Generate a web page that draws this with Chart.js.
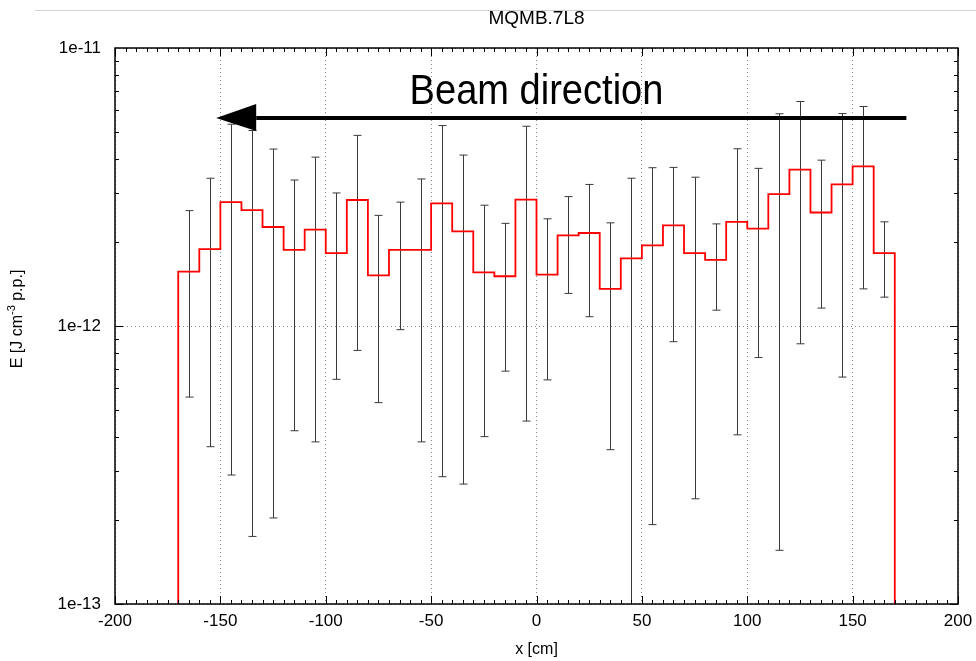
<!DOCTYPE html>
<html>
<head>
<meta charset="utf-8">
<script src="https://cdn.jsdelivr.net/npm/chart.js@4.4.1/dist/chart.umd.min.js"></script>
<style>
  html, body { margin: 0; padding: 0; background: #ffffff; }
  #wrap { width: 976px; height: 661px; }
</style>
</head>
<body>
<div id="wrap"><canvas id="edepChart"></canvas></div>
<script>
  // bin edges in cm, 10 cm bins
  const binEdges = [-170, -160, -150, -140, -130, -120, -110, -100, -90, -80, -70, -60, -50, -40, -30, -20, -10,
    0, 10, 20, 30, 40, 50, 60, 70, 80, 90, 100, 110, 120, 130, 140, 150, 160, 170];
  // energy density per bin [J cm^-3 p.p.]
  const energy = [1.57e-12, 1.89e-12, 2.79e-12, 2.61e-12, 2.27e-12, 1.88e-12, 2.22e-12, 1.83e-12, 2.84e-12, 1.52e-12,
    1.88e-12, 1.88e-12, 2.76e-12, 2.19e-12, 1.56e-12, 1.51e-12, 2.85e-12, 1.53e-12, 2.12e-12, 2.16e-12,
    1.36e-12, 1.75e-12, 1.95e-12, 2.30e-12, 1.83e-12, 1.73e-12, 2.37e-12, 2.24e-12, 2.98e-12, 3.65e-12,
    2.56e-12, 3.23e-12, 3.75e-12, 1.83e-12];
  // error bar ends (0 = lower end below the axis)
  const errHigh = [2.60e-12, 3.40e-12, 5.32e-12, 5.05e-12, 4.33e-12, 3.35e-12, 4.05e-12, 3.01e-12, 4.85e-12, 2.50e-12,
    2.79e-12, 3.38e-12, 5.26e-12, 4.12e-12, 2.72e-12, 2.34e-12, 5.23e-12, 2.43e-12, 2.92e-12, 3.23e-12,
    2.35e-12, 3.40e-12, 3.71e-12, 3.72e-12, 3.43e-12, 2.33e-12, 4.34e-12, 3.69e-12, 5.80e-12, 6.42e-12,
    3.95e-12, 5.81e-12, 6.16e-12, 2.37e-12];
  const errLow = [5.55e-13, 3.68e-13, 2.91e-13, 1.75e-13, 2.04e-13, 4.20e-13, 3.83e-13, 6.43e-13, 8.17e-13, 5.30e-13,
    9.70e-13, 3.83e-13, 2.87e-13, 2.70e-13, 4.00e-13, 6.88e-13, 4.55e-13, 6.40e-13, 1.31e-12, 1.08e-12,
    3.59e-13, 0, 1.93e-13, 8.78e-13, 2.39e-13, 1.14e-12, 4.06e-13, 7.70e-13, 1.56e-13, 8.63e-13,
    1.16e-12, 6.55e-13, 1.36e-12, 1.27e-12];
  const xTicks = [-200, -150, -100, -50, 0, 50, 100, 150, 200];
  const yTicks = [1e-13, 1e-12, 1e-11];
  // beam direction arrow (x in cm, y in J cm^-3)
  const arrowTip = -152;
  const arrowTail = 175.5;
  const arrowHeadBase = -133;
  const arrowLevel = 5.6e-12;

  const FONT = "'Liberation Sans', Arial, sans-serif";

  // histogram outline from the bins
  const stepPoints = [{ x: binEdges[0], y: yTicks[0] / 10 }];
  energy.forEach((v, i) => stepPoints.push({ x: binEdges[i], y: v }));
  stepPoints.push({ x: binEdges[binEdges.length - 1], y: energy[energy.length - 1] });
  stepPoints.push({ x: binEdges[binEdges.length - 1], y: yTicks[0] / 10 });

  const binCenters = energy.map((v, i) => (binEdges[i] + binEdges[i + 1]) / 2);

  const errorBars = {
    id: 'errorBars',
    beforeDatasetsDraw(chart) {
      const { ctx, chartArea, scales: { x, y } } = chart;
      ctx.save();
      ctx.beginPath();
      ctx.rect(chartArea.left, chartArea.top, chartArea.right - chartArea.left, chartArea.bottom - chartArea.top);
      ctx.clip();
      ctx.strokeStyle = '#3a3a3a';
      ctx.lineWidth = 1;
      binCenters.forEach((c, i) => {
        const px = Math.round(x.getPixelForValue(c)) + 0.5;
        const top = y.getPixelForValue(errHigh[i]);
        const bot = errLow[i] > 0 ? y.getPixelForValue(errLow[i]) : chartArea.bottom;
        ctx.beginPath();
        ctx.moveTo(px, top);
        ctx.lineTo(px, bot);
        ctx.moveTo(px - 4, top);
        ctx.lineTo(px + 4, top);
        if (errLow[i] > 0) {
          ctx.moveTo(px - 4, bot);
          ctx.lineTo(px + 4, bot);
        }
        ctx.stroke();
      });
      ctx.restore();
    }
  };

  const pageLine = {
    id: 'pageLine',
    beforeDraw(chart) {
      const { ctx, chartArea } = chart;
      ctx.save();
      ctx.strokeStyle = '#d0d0d0';
      ctx.lineWidth = 1;
      ctx.beginPath();
      ctx.moveTo(35, 10.5);
      ctx.lineTo(976, 10.5);
      ctx.stroke();
      // plot title, centred over the plot area
      ctx.fillStyle = '#000';
      ctx.font = '19px ' + FONT;
      ctx.textAlign = 'center';
      ctx.textBaseline = 'middle';
      ctx.fillText('MQMB.7L8', (chartArea.left + chartArea.right) / 2, 19);
      ctx.restore();
    }
  };

  const frameAndLabels = {
    id: 'frameAndLabels',
    afterDatasetsDraw(chart) {
      const { ctx, chartArea, scales: { x, y } } = chart;
      const { left, right, top, bottom } = chartArea;
      ctx.save();

      // arrow
      const ay = y.getPixelForValue(arrowLevel);
      const xt = x.getPixelForValue(arrowTip);
      const xb = x.getPixelForValue(arrowHeadBase);
      ctx.strokeStyle = '#000';
      ctx.fillStyle = '#000';
      ctx.lineWidth = 4;
      ctx.beginPath();
      ctx.moveTo(xb, ay);
      ctx.lineTo(x.getPixelForValue(arrowTail), ay);
      ctx.stroke();
      ctx.beginPath();
      ctx.moveTo(xt, ay);
      ctx.lineTo(xb, ay - 14);
      ctx.lineTo(xb, ay + 13);
      ctx.closePath();
      ctx.fill();

      // label above arrow
      ctx.save();
      ctx.translate(x.getPixelForValue(0), ay - 14);
      ctx.scale(0.885, 1);
      ctx.font = '43px ' + FONT;
      ctx.textAlign = 'center';
      ctx.textBaseline = 'alphabetic';
      ctx.fillText('Beam direction', 0, 0);
      ctx.restore();

      // frame
      ctx.strokeStyle = '#000';
      ctx.lineWidth = 1.5;
      ctx.strokeRect(left, top, right - left, bottom - top);

      // inward ticks
      ctx.lineWidth = 1;
      ctx.beginPath();
      for (let v = -200; v <= 200; v += 5) {
        const px = Math.round(x.getPixelForValue(v)) + 0.5;
        const len = v % 50 === 0 ? 8 : 4;
        ctx.moveTo(px, bottom);
        ctx.lineTo(px, bottom - len);
        ctx.moveTo(px, top);
        ctx.lineTo(px, top + len);
      }
      for (let d = -13; d < -11; d++) {
        for (let m = 1; m <= 9; m++) {
          const py = Math.round(y.getPixelForValue(m * Math.pow(10, d))) + 0.5;
          const len = m === 1 ? 8 : 4;
          ctx.moveTo(left, py);
          ctx.lineTo(left + len, py);
          ctx.moveTo(right, py);
          ctx.lineTo(right - len, py);
        }
      }
      ctx.stroke();

      // y axis title with superscript
      ctx.translate(18, 319);
      ctx.rotate(-Math.PI / 2);
      ctx.fillStyle = '#000';
      ctx.textBaseline = 'middle';
      ctx.textAlign = 'left';
      const big = '16px ' + FONT;
      const small = '11px ' + FONT;
      const parts = [['E [J cm', big, 0], ['-3', small, -6], [' p.p.]', big, 0]];
      let total = 0;
      parts.forEach(p => { ctx.font = p[1]; total += ctx.measureText(p[0]).width; });
      let cx = -total / 2;
      parts.forEach(p => {
        ctx.font = p[1];
        ctx.fillText(p[0], cx, p[2]);
        cx += ctx.measureText(p[0]).width;
      });
      ctx.restore();
    }
  };

  const ctxChart = document.getElementById('edepChart').getContext('2d');
  new Chart(ctxChart, {
    type: 'line',
    data: {
      datasets: [{
        label: 'MQMB.7L8',
        data: stepPoints,
        stepped: 'before',
        borderColor: '#ff0000',
        borderWidth: 1.8,
        pointRadius: 0,
        fill: false
      }]
    },
    options: {
      responsive: true,
      maintainAspectRatio: false,
      animation: false,
      layout: { padding: { left: 0, right: 18, top: 48, bottom: 0 } },
      plugins: {
        legend: { display: false },
        tooltip: { enabled: false },
        title: { display: false }
      },
      scales: {
        x: {
          type: 'linear',
          min: -200,
          max: 200,
          afterBuildTicks: s => { s.ticks = xTicks.map(v => ({ value: v })); },
          afterFit: s => { s.height = 57; s.paddingLeft = 0; s.paddingRight = 0; },
          grid: { color: '#888', lineWidth: 1, drawTicks: false },
          border: { display: false, dash: [1, 3] },
          ticks: {
            color: '#000',
            padding: 7,
            maxRotation: 0,
            autoSkip: false,
            font: { family: FONT, size: 17 }
          },
          title: {
            display: true,
            text: 'x [cm]',
            color: '#000',
            font: { family: FONT, size: 16 },
            padding: { top: 0, bottom: 2 }
          }
        },
        y: {
          type: 'logarithmic',
          min: yTicks[0],
          max: yTicks[yTicks.length - 1],
          afterBuildTicks: s => { s.ticks = yTicks.map(v => ({ value: v })); },
          afterFit: s => { s.width = 115; s.paddingTop = 0; s.paddingBottom = 0; },
          grid: { color: '#888', lineWidth: 1, drawTicks: false },
          border: { display: false, dash: [1, 3] },
          ticks: {
            color: '#000',
            padding: 14,
            font: { family: FONT, size: 17 },
            callback: v => '1e' + Math.round(Math.log10(v))
          }
        }
      }
    },
    plugins: [pageLine, errorBars, frameAndLabels]
  });
</script>
</body>
</html>
